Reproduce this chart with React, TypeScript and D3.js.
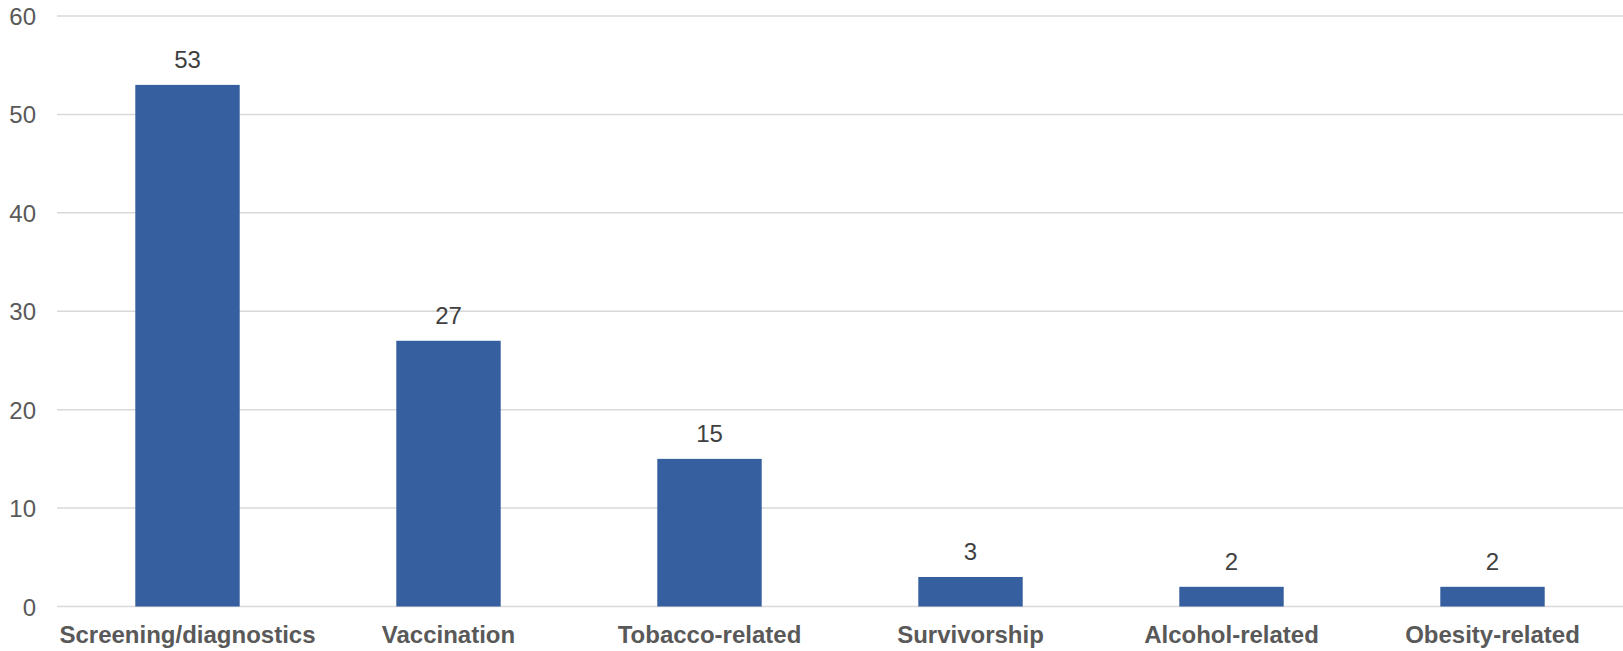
import React from "react";
import * as d3 from "d3";

const categories = ["Screening/diagnostics", "Vaccination", "Tobacco-related", "Survivorship", "Alcohol-related", "Obesity-related"];
const values = [53, 27, 15, 3, 2, 2];
const yTicks = [0, 10, 20, 30, 40, 50, 60];

const W = 1623;
const H = 651;

export default function App() {
  const x = d3.scaleBand<string>().domain(categories).range([57, 1623]).paddingInner(0.6).paddingOuter(0.3);
  const y = d3.scaleLinear().domain([0, 60]).range([606.5, 16]);
  const font = "'Liberation Sans', Arial, sans-serif";
  return (
    <div style={{ position: "fixed", left: 0, top: 0 }}>
      <svg width={W} height={H} style={{ display: "block", background: "#fff" }}>
        {yTicks.map((t) => (
          <g key={t}>
            <line x1={57} x2={W} y1={y(t)} y2={y(t)} stroke="#D9D9D9" strokeWidth={1.5} />
            <text x={36} y={y(t) + 9} textAnchor="end" fontFamily={font} fontSize={24} fill="#595959">
              {t}
            </text>
          </g>
        ))}
        {categories.map((c, i) => (
          <g key={c}>
            <rect x={x(c)} y={y(values[i])} width={x.bandwidth()} height={y(0) - y(values[i])} fill="#365F9F" />
            <text x={(x(c) as number) + x.bandwidth() / 2} y={y(values[i]) - 17} textAnchor="middle" fontFamily={font} fontSize={24} fill="#404040">
              {values[i]}
            </text>
            <text x={(x(c) as number) + x.bandwidth() / 2} y={643} textAnchor="middle" fontFamily={font} fontSize={24} fontWeight="bold" fill="#595959">
              {c}
            </text>
          </g>
        ))}
      </svg>
    </div>
  );
}
